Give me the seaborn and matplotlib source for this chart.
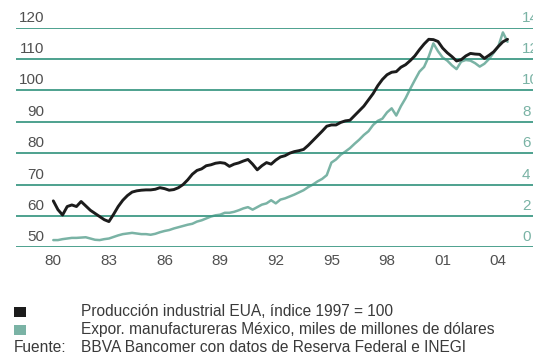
import numpy as np
import pandas as pd
import matplotlib
matplotlib.use("Agg")
import matplotlib.pyplot as plt
from matplotlib.patches import Rectangle
import seaborn as sns

# Quarterly observations starting 1980 Q1
start_year = 1980
us_ip = [
    64.8, 62.0, 60.3, 63.0,
    63.5, 63.0, 64.6, 63.2,
    61.8, 60.8, 59.8, 58.8,
    58.2, 60.5, 63.0, 65.0,
    66.5, 67.6, 68.0, 68.2,
    68.3, 68.3, 68.5, 69.0,
    68.7, 68.2, 68.4, 69.0,
    70.0, 71.5, 73.3, 74.5,
    75.0, 76.0, 76.3, 76.8,
    77.0, 76.8, 75.8, 76.5,
    76.9, 77.5, 78.0, 76.5,
    74.7, 76.0, 77.0, 76.5,
    77.8, 78.8, 79.2, 80.0,
    80.5, 80.8, 81.2, 82.5,
    84.0, 85.5, 87.0, 88.6,
    89.0, 89.0, 89.8, 90.3,
    90.5, 92.0, 93.5, 95.0,
    97.0, 99.0, 101.5, 103.5,
    105.0, 105.8, 106.0, 107.4,
    108.2, 109.5, 111.0, 113.0,
    114.8, 116.3, 116.2, 115.6,
    113.5, 112.0, 110.8, 109.4,
    109.8, 111.0, 111.8, 111.6,
    111.5, 110.2, 111.2, 112.3,
    114.0, 115.5, 116.3,
]
mx_exports = [
    0.46, 0.46, 0.52, 0.56,
    0.60, 0.60, 0.62, 0.64,
    0.56, 0.48, 0.46, 0.52,
    0.56, 0.66, 0.76, 0.84,
    0.88, 0.92, 0.88, 0.84,
    0.84, 0.80, 0.86, 0.96,
    1.04, 1.10, 1.20, 1.28,
    1.36, 1.44, 1.50, 1.64,
    1.72, 1.84, 1.96, 2.04,
    2.08, 2.20, 2.20, 2.26,
    2.36, 2.48, 2.56, 2.40,
    2.56, 2.72, 2.80, 3.00,
    2.80, 3.04, 3.12, 3.24,
    3.36, 3.50, 3.64, 3.84,
    4.00, 4.20, 4.36, 4.60,
    5.40, 5.60, 5.90, 6.10,
    6.32, 6.60, 6.86, 7.16,
    7.40, 7.80, 8.06, 8.20,
    8.60, 8.86, 8.40, 9.00,
    9.50, 10.10, 10.66, 11.20,
    11.50, 12.16, 13.00, 12.50,
    12.10, 11.90, 11.60, 11.36,
    11.84, 11.94, 11.90, 11.74,
    11.52, 11.70, 12.00, 12.40,
    12.80, 13.70, 13.10,
]

left_ticks = [50, 60, 70, 80, 90, 100, 110, 120]
right_ticks = [0, 2, 4, 6, 8, 10, 12, 14]
x_ticks = [1980, 1983, 1986, 1989, 1992, 1995, 1998, 2001, 2004]
x_labels = ["80", "83", "86", "89", "92", "95", "98", "01", "04"]

legend_labels = [
    "Producción industrial EUA, índice 1997 = 100",
    "Expor. manufactureras México, miles de millones de dólares",
]
source_text = "BBVA Bancomer con datos de Reserva Federal e INEGI"

BLACK = "#1c1c1c"
GREEN = "#7ab3a5"
GRID = "#3f9a86"
TEXT = "#505050"
LEGEND_TEXT = "#3a3a3a"

sns.set_style("white")
plt.rcParams["font.family"] = ["Liberation Sans", "DejaVu Sans"]

df = pd.DataFrame({
    "fecha": start_year + np.arange(len(us_ip)) / 4.0,
    "ip": us_ip,
})
df2 = pd.DataFrame({
    "fecha": start_year + np.arange(len(mx_exports)) / 4.0,
    "expo": mx_exports,
})

W, H = 533, 356
fig = plt.figure(figsize=(W / 100, H / 100), dpi=100)

# axes geometry in pixels
px_left, px_right = 16, 533
px_top, px_bottom = 27.7, 247.3
ax = fig.add_axes([px_left / W, 1 - px_bottom / H,
                   (px_right - px_left) / W, (px_bottom - px_top) / H])
ax2 = ax.twinx()

x0_px, px_per_year = 53.3, 18.54
xmin = 1980 + (px_left - x0_px) / px_per_year
xmax = 1980 + (px_right - x0_px) / px_per_year

for a in (ax, ax2):
    a.set_xlim(xmin, xmax)
    for s in a.spines.values():
        s.set_visible(False)
    a.patch.set_alpha(0)

ax.set_ylim(50, 120)
ax2.set_ylim(0, 14)

for t in left_ticks:
    ax.axhline(t, color=GRID, lw=1.3, zorder=1)

sns.lineplot(data=df2, x="fecha", y="expo", ax=ax2, color=GREEN, lw=1.8, zorder=3)
sns.lineplot(data=df, x="fecha", y="ip", ax=ax, color=BLACK, lw=2.1, zorder=4)
ax.set_zorder(ax2.get_zorder() + 1)

ax.set_yticks([])
ax2.set_yticks([])
ax.set_xlabel("")
ax.set_ylabel("")
ax2.set_xlabel("")
ax2.set_ylabel("")
ax.set_xticks(x_ticks)
ax.set_xticklabels(x_labels, fontsize=11, color=TEXT)
ax.tick_params(axis="x", length=0, pad=5)
ax2.tick_params(axis="x", length=0, labelbottom=False)

# value labels sitting just above each gridline
for t in left_ticks:
    ypx = px_bottom - (t - 50) / 70 * (px_bottom - px_top)
    fig.text(44 / W, 1 - (ypx - 10) / H, str(t), ha="right", va="center",
             fontsize=11, color=TEXT)
# right-hand scale runs off the edge of the figure
for t in right_ticks:
    ypx = px_bottom - t / 14 * (px_bottom - px_top)
    fig.text(522 / W, 1 - (ypx - 10) / H, str(t), ha="left", va="center",
             fontsize=11, color=GREEN)

# legend and source
rows = [311.7, 329.5, 347.0]
for ypx, col in zip(rows[:2], [BLACK, GREEN]):
    fig.add_artist(Rectangle((14 / W, 1 - (ypx + 5) / H), 12 / W, 10 / H,
                             transform=fig.transFigure, color=col, lw=0))
for ypx, txt in zip(rows[:2], legend_labels):
    fig.text(81 / W, 1 - ypx / H, txt, ha="left", va="center",
             fontsize=11.2, color=LEGEND_TEXT)
fig.text(14 / W, 1 - rows[2] / H, "Fuente:", ha="left", va="center",
         fontsize=11.2, color=LEGEND_TEXT)
fig.text(81 / W, 1 - rows[2] / H, source_text, ha="left", va="center",
         fontsize=11.2, color=LEGEND_TEXT)

fig.savefig("out.png", dpi=100)
